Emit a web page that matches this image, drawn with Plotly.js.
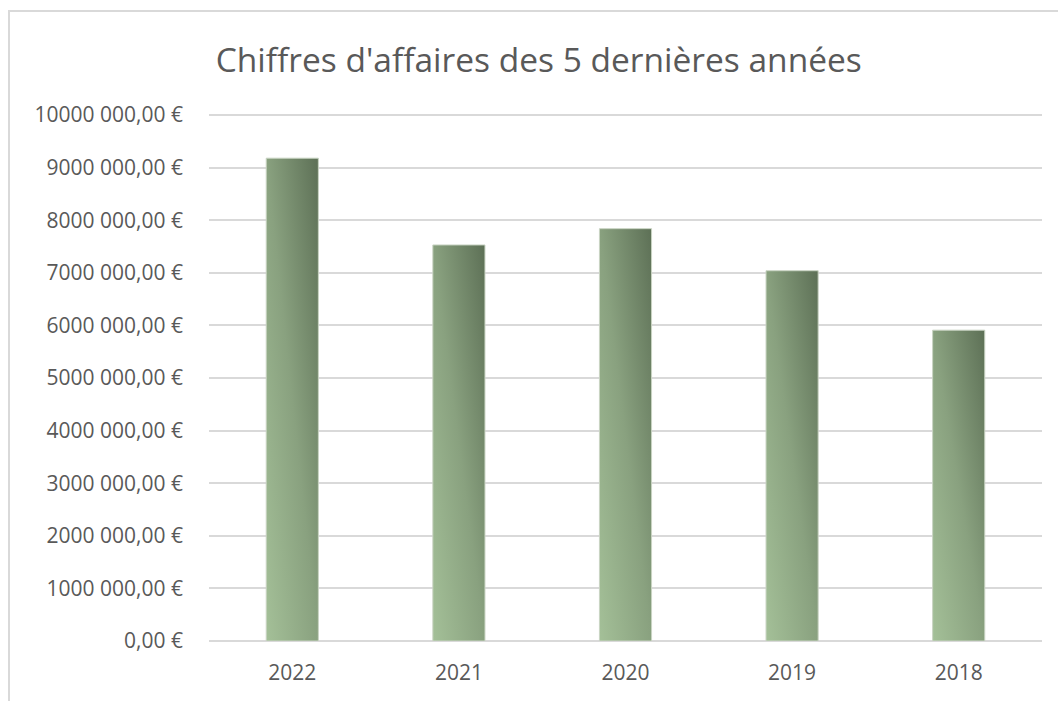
<!DOCTYPE html>
<html>
<head>
<meta charset="utf-8">
<script src="https://cdn.plot.ly/plotly-3.0.1.min.js"></script>
<style>
  html, body { margin: 0; padding: 0; background: #ffffff; overflow: hidden; }
  #frame { position: absolute; left: 8px; top: 10px; width: 1100px; height: 720px;
           border-left: 2px solid #d9d9d9; border-top: 2px solid #d9d9d9; box-sizing: border-box; }
  #chart { position: absolute; left: 0; top: 0; width: 1058px; height: 701px; }
</style>
</head>
<body>
<div id="frame"></div>
<div id="chart"></div>
<script>
const chartTitle = "Chiffres d'affaires des 5 dernières années";
const years = ["2022", "2021", "2020", "2019", "2018"];
const revenues = [9180000, 7530000, 7840000, 7040000, 5910000];
const tickValues = [0, 1000000, 2000000, 3000000, 4000000, 5000000, 6000000, 7000000, 8000000, 9000000, 10000000];
const tickLabels = ["0,00 €", "1000 000,00 €", "2000 000,00 €", "3000 000,00 €", "4000 000,00 €",
  "5000 000,00 €", "6000 000,00 €", "7000 000,00 €", "8000 000,00 €", "9000 000,00 €", "10000 000,00 €"];

const textColor = "#595959";
const gridColor = "#d9d9d9";
const fontFamily = "'Open Sans', 'Noto Sans', sans-serif";

const trace = {
  type: "bar",
  x: years,
  y: revenues,
  marker: { color: "#86a07c", line: { color: "#c9d4c3", width: 1 } },
  hoverinfo: "x+y"
};

const layout = {
  width: 1058,
  height: 701,
  paper_bgcolor: "rgba(0,0,0,0)",
  plot_bgcolor: "rgba(0,0,0,0)",
  margin: { l: 209, r: 16, t: 114, b: 60 },
  bargap: 0.687,
  showlegend: false,
  title: {
    text: chartTitle,
    font: { family: fontFamily, size: 33.5, color: textColor },
    x: 0.5092, xanchor: "center", xref: "container",
    y: 1 - 60 / 701, yanchor: "middle", yref: "container"
  },
  xaxis: {
    type: "category",
    showgrid: false,
    showline: false,
    zeroline: false,
    ticks: "",
    ticklabelstandoff: 17,
    tickfont: { family: fontFamily, size: 21, color: textColor }
  },
  yaxis: {
    range: [0, 10020000],
    tickmode: "array",
    tickvals: tickValues,
    ticktext: tickLabels,
    showgrid: true,
    gridcolor: gridColor,
    gridwidth: 2,
    zeroline: true,
    zerolinecolor: gridColor,
    zerolinewidth: 2,
    showline: false,
    ticks: "",
    ticklabelstandoff: 25,
    tickfont: { family: fontFamily, size: 21, color: textColor }
  }
};

Plotly.newPlot("chart", [trace], layout, { displayModeBar: false, staticPlot: true }).then(function (gd) {
  const svgNS = "http://www.w3.org/2000/svg";
  const svg = gd.querySelector("svg.main-svg");
  let defs = svg.querySelector("defs");
  if (!defs) { defs = document.createElementNS(svgNS, "defs"); svg.insertBefore(defs, svg.firstChild); }
  const grad = document.createElementNS(svgNS, "linearGradient");
  grad.setAttribute("id", "barGrad");
  grad.setAttribute("x1", "0"); grad.setAttribute("y1", "1");
  grad.setAttribute("x2", "1"); grad.setAttribute("y2", "0");
  [["0", "#a4c098"], ["0.5", "#89a17f"], ["1", "#5d7056"]].forEach(function (s) {
    const stop = document.createElementNS(svgNS, "stop");
    stop.setAttribute("offset", s[0]);
    stop.setAttribute("stop-color", s[1]);
    grad.appendChild(stop);
  });
  defs.appendChild(grad);
  gd.querySelectorAll(".barlayer .point path").forEach(function (p) {
    p.style.fill = "url(#barGrad)";
  });
});
</script>
</body>
</html>
